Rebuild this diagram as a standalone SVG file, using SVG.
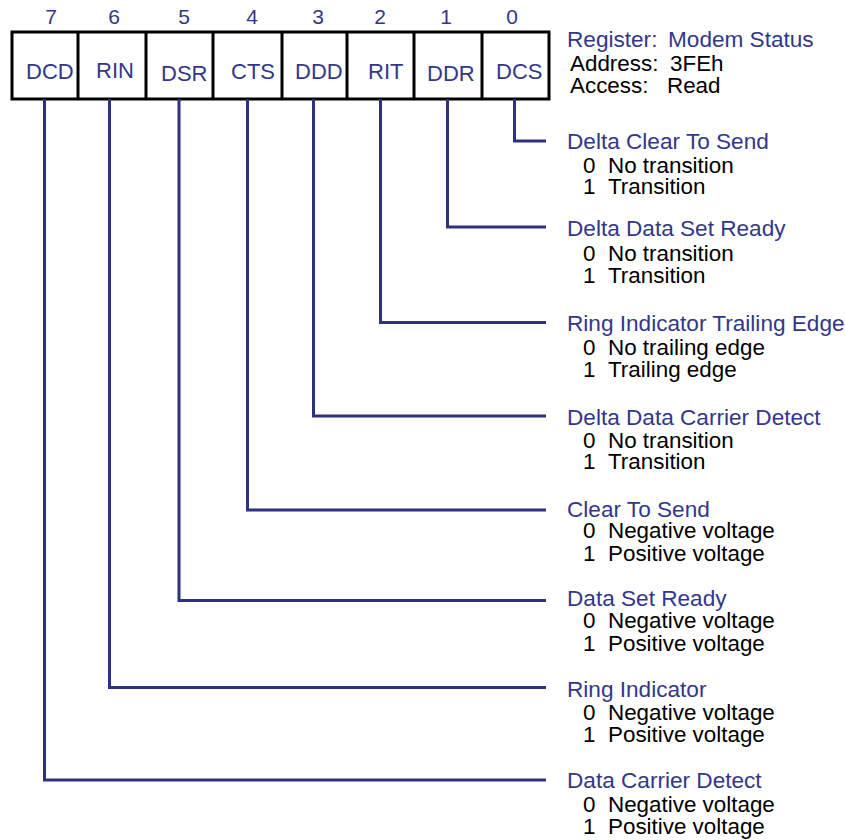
<svg xmlns="http://www.w3.org/2000/svg" width="845" height="840" viewBox="0 0 845 840">
  <style>
    text { font-family: "Liberation Sans", Arial, sans-serif; }
    .num { font-size: 21px; fill: #33378a; text-anchor: middle; }
    .cell { font-size: 22px; fill: #33378a; }
    .title { font-size: 22.6px; fill: #33378a; }
    .desc { font-size: 22.4px; fill: #000; }
    .box { fill: #fff; stroke: #000; stroke-width: 3; }
    .div { stroke: #000; stroke-width: 3; }
    .lead { fill: none; stroke: #2e3180; stroke-width: 3; stroke-linejoin: miter; stroke-linecap: butt; }
  </style>

  <rect width="845" height="840" fill="#fff"/>

  <!-- Register bit cells -->
  <g id="register">
    <rect class="box" x="12" y="32" width="537" height="67"/>
    <line class="div" x1="78" y1="32" x2="78" y2="99"/>
    <line class="div" x1="146" y1="32" x2="146" y2="99"/>
    <line class="div" x1="213" y1="32" x2="213" y2="99"/>
    <line class="div" x1="282" y1="32" x2="282" y2="99"/>
    <line class="div" x1="347" y1="32" x2="347" y2="99"/>
    <line class="div" x1="414" y1="32" x2="414" y2="99"/>
    <line class="div" x1="482" y1="32" x2="482" y2="99"/>
    <text class="num" x="51" y="24">7</text>
    <text class="num" x="114" y="24">6</text>
    <text class="num" x="184" y="24">5</text>
    <text class="num" x="252" y="24">4</text>
    <text class="num" x="318" y="24">3</text>
    <text class="num" x="380" y="24">2</text>
    <text class="num" x="446" y="24">1</text>
    <text class="num" x="512" y="24">0</text>
    <text class="cell" x="26" y="79">DCD</text>
    <text class="cell" x="96" y="78">RIN</text>
    <text class="cell" x="161" y="81">DSR</text>
    <text class="cell" x="231" y="79">CTS</text>
    <text class="cell" x="295" y="79">DDD</text>
    <text class="cell" x="368" y="79">RIT</text>
    <text class="cell" x="427" y="81">DDR</text>
    <text class="cell" x="496" y="79">DCS</text>
  </g>

  <!-- Register header -->
  <g id="header">
    <text class="title" x="567" y="47">Register:<tspan x="668">Modem Status</tspan></text>
    <text class="desc" x="570" y="71">Address:<tspan x="670">3FEh</tspan></text>
    <text class="desc" x="570" y="93">Access:<tspan x="667">Read</tspan></text>
  </g>

  <!-- Leader lines from each bit to its description -->
  <g id="connectors">
    <path class="lead" d="M514.5,99 V141 H546"/>
    <path class="lead" d="M447.5,99 V227 H546"/>
    <path class="lead" d="M380.5,99 V322.5 H546"/>
    <path class="lead" d="M313.5,99 V416 H546"/>
    <path class="lead" d="M247.5,99 V510 H546"/>
    <path class="lead" d="M179,99 V600.5 H546"/>
    <path class="lead" d="M109.5,99 V687.5 H546"/>
    <path class="lead" d="M44.5,99 V780 H546"/>
  </g>

  <!-- Bit descriptions -->
  <g id="bit0">
    <text class="title" x="567" y="149">Delta Clear To Send</text>
    <text class="desc" x="583" y="173">0<tspan x="608">No transition</tspan></text>
    <text class="desc" x="583" y="194">1<tspan x="608">Transition</tspan></text>
  </g>
  <g id="bit1">
    <text class="title" x="567" y="236">Delta Data Set Ready</text>
    <text class="desc" x="583" y="261">0<tspan x="608">No transition</tspan></text>
    <text class="desc" x="583" y="283">1<tspan x="608">Transition</tspan></text>
  </g>
  <g id="bit2">
    <text class="title" x="567" y="331">Ring Indicator Trailing Edge</text>
    <text class="desc" x="583" y="355">0<tspan x="608">No trailing edge</tspan></text>
    <text class="desc" x="583" y="377">1<tspan x="608">Trailing edge</tspan></text>
  </g>
  <g id="bit3">
    <text class="title" x="567" y="425">Delta Data Carrier Detect</text>
    <text class="desc" x="583" y="448">0<tspan x="608">No transition</tspan></text>
    <text class="desc" x="583" y="469">1<tspan x="608">Transition</tspan></text>
  </g>
  <g id="bit4">
    <text class="title" x="567" y="517">Clear To Send</text>
    <text class="desc" x="583" y="538">0<tspan x="608">Negative voltage</tspan></text>
    <text class="desc" x="583" y="561">1<tspan x="608">Positive voltage</tspan></text>
  </g>
  <g id="bit5">
    <text class="title" x="567" y="606">Data Set Ready</text>
    <text class="desc" x="583" y="628">0<tspan x="608">Negative voltage</tspan></text>
    <text class="desc" x="583" y="651">1<tspan x="608">Positive voltage</tspan></text>
  </g>
  <g id="bit6">
    <text class="title" x="567" y="697">Ring Indicator</text>
    <text class="desc" x="583" y="720">0<tspan x="608">Negative voltage</tspan></text>
    <text class="desc" x="583" y="742">1<tspan x="608">Positive voltage</tspan></text>
  </g>
  <g id="bit7">
    <text class="title" x="567" y="788">Data Carrier Detect</text>
    <text class="desc" x="583" y="812">0<tspan x="608">Negative voltage</tspan></text>
    <text class="desc" x="583" y="834">1<tspan x="608">Positive voltage</tspan></text>
  </g>
</svg>
